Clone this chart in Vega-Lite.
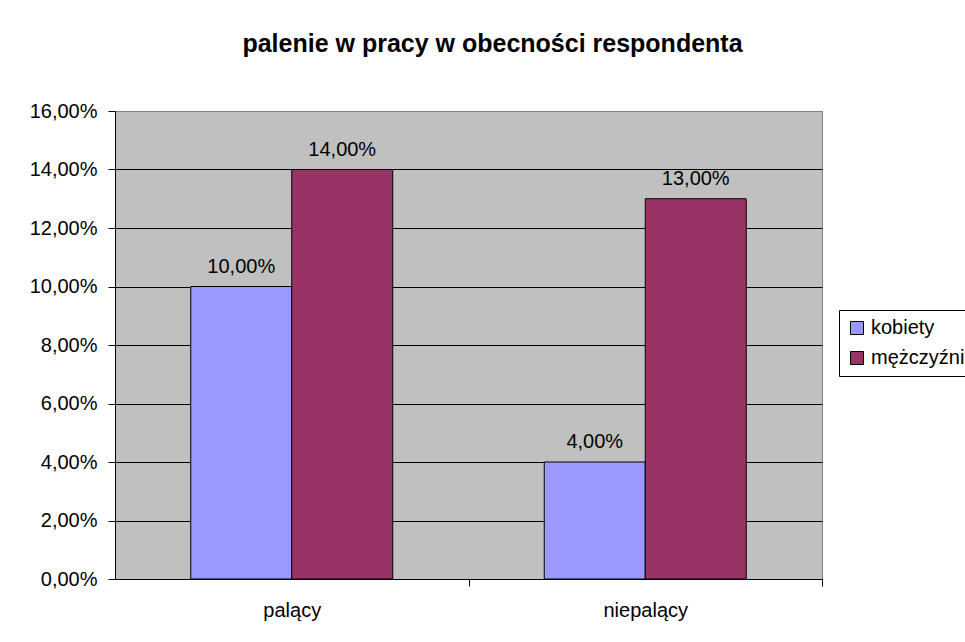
{
  "$schema": "https://vega.github.io/schema/vega-lite/v6.json",
  "width": 707,
  "height": 468,
  "autosize": {"type": "none"},
  "padding": {"left": 115, "top": 111, "right": 143, "bottom": 63},
  "background": "white",
  "title": {
    "text": "palenie w pracy w obecności respondenta",
    "font": "Liberation Sans",
    "fontSize": 25,
    "fontWeight": "bold",
    "color": "black",
    "anchor": "middle",
    "frame": "group",
    "dx": 24,
    "offset": 44
  },
  "data": {
    "values": [
      {"grupa": "palący", "plec": "kobiety", "wartosc": 0.10},
      {"grupa": "palący", "plec": "mężczyźni", "wartosc": 0.14},
      {"grupa": "niepalący", "plec": "kobiety", "wartosc": 0.04},
      {"grupa": "niepalący", "plec": "mężczyźni", "wartosc": 0.13}
    ]
  },
  "encoding": {
    "x": {
      "field": "grupa",
      "type": "nominal",
      "sort": ["palący", "niepalący"],
      "scale": {"paddingInner": 0.4286, "paddingOuter": 0.2143},
      "axis": {
        "title": null,
        "labelAngle": 0,
        "labelFont": "Liberation Sans",
        "labelFontSize": 20,
        "labelColor": "black",
        "labelPadding": 14,
        "tickOffset": 176.75,
        "labelOffset": -176.75,
        "tickSize": 7,
        "tickColor": "black",
        "domainColor": "black",
        "grid": false
      }
    },
    "xOffset": {"field": "plec", "type": "nominal", "sort": ["kobiety", "mężczyźni"]},
    "y": {
      "field": "wartosc",
      "type": "quantitative",
      "scale": {"domain": [0, 0.16], "nice": false},
      "axis": {
        "title": null,
        "values": [0, 0.02, 0.04, 0.06, 0.08, 0.1, 0.12, 0.14, 0.16],
        "format": ".2%",
        "labelFont": "Liberation Sans",
        "labelFontSize": 20,
        "labelColor": "black",
        "labelPadding": 11,
        "tickSize": 7,
        "tickColor": "black",
        "domainColor": "black",
        "grid": true,
        "gridColor": {"condition": {"test": "datum.value >= 0.159", "value": "#808080"}, "value": "black"},
        "gridOpacity": 1
      }
    }
  },
  "layer": [
    {
      "mark": {"type": "bar", "stroke": "black", "strokeWidth": 1},
      "encoding": {
        "color": {
          "field": "plec",
          "type": "nominal",
          "scale": {"domain": ["kobiety", "mężczyźni"], "range": ["#9999FF", "#993366"]},
          "legend": {
            "title": null,
            "orient": "none",
            "legendX": 724,
            "legendY": 199,
            "strokeColor": "black",
            "fillColor": "white",
            "padding": 8,
            "rowPadding": 10,
            "symbolType": "square",
            "symbolSize": 169,
            "symbolStrokeColor": "black",
            "symbolStrokeWidth": 1,
            "symbolOpacity": 1,
            "labelFont": "Liberation Sans",
            "labelFontSize": 20,
            "labelColor": "black",
            "labelOffset": 4
          }
        }
      }
    },
    {
      "mark": {"type": "text", "font": "Liberation Sans", "fontSize": 20, "color": "black", "baseline": "alphabetic", "dy": -14},
      "encoding": {
        "text": {"field": "wartosc", "type": "quantitative", "format": ".2%"}
      }
    }
  ],
  "config": {
    "locale": {"number": {"decimal": ",", "thousands": " ", "grouping": [3], "currency": ["", " zł"]}},
    "view": {"fill": "#C0C0C0", "stroke": "#808080", "strokeWidth": 1}
  }
}
